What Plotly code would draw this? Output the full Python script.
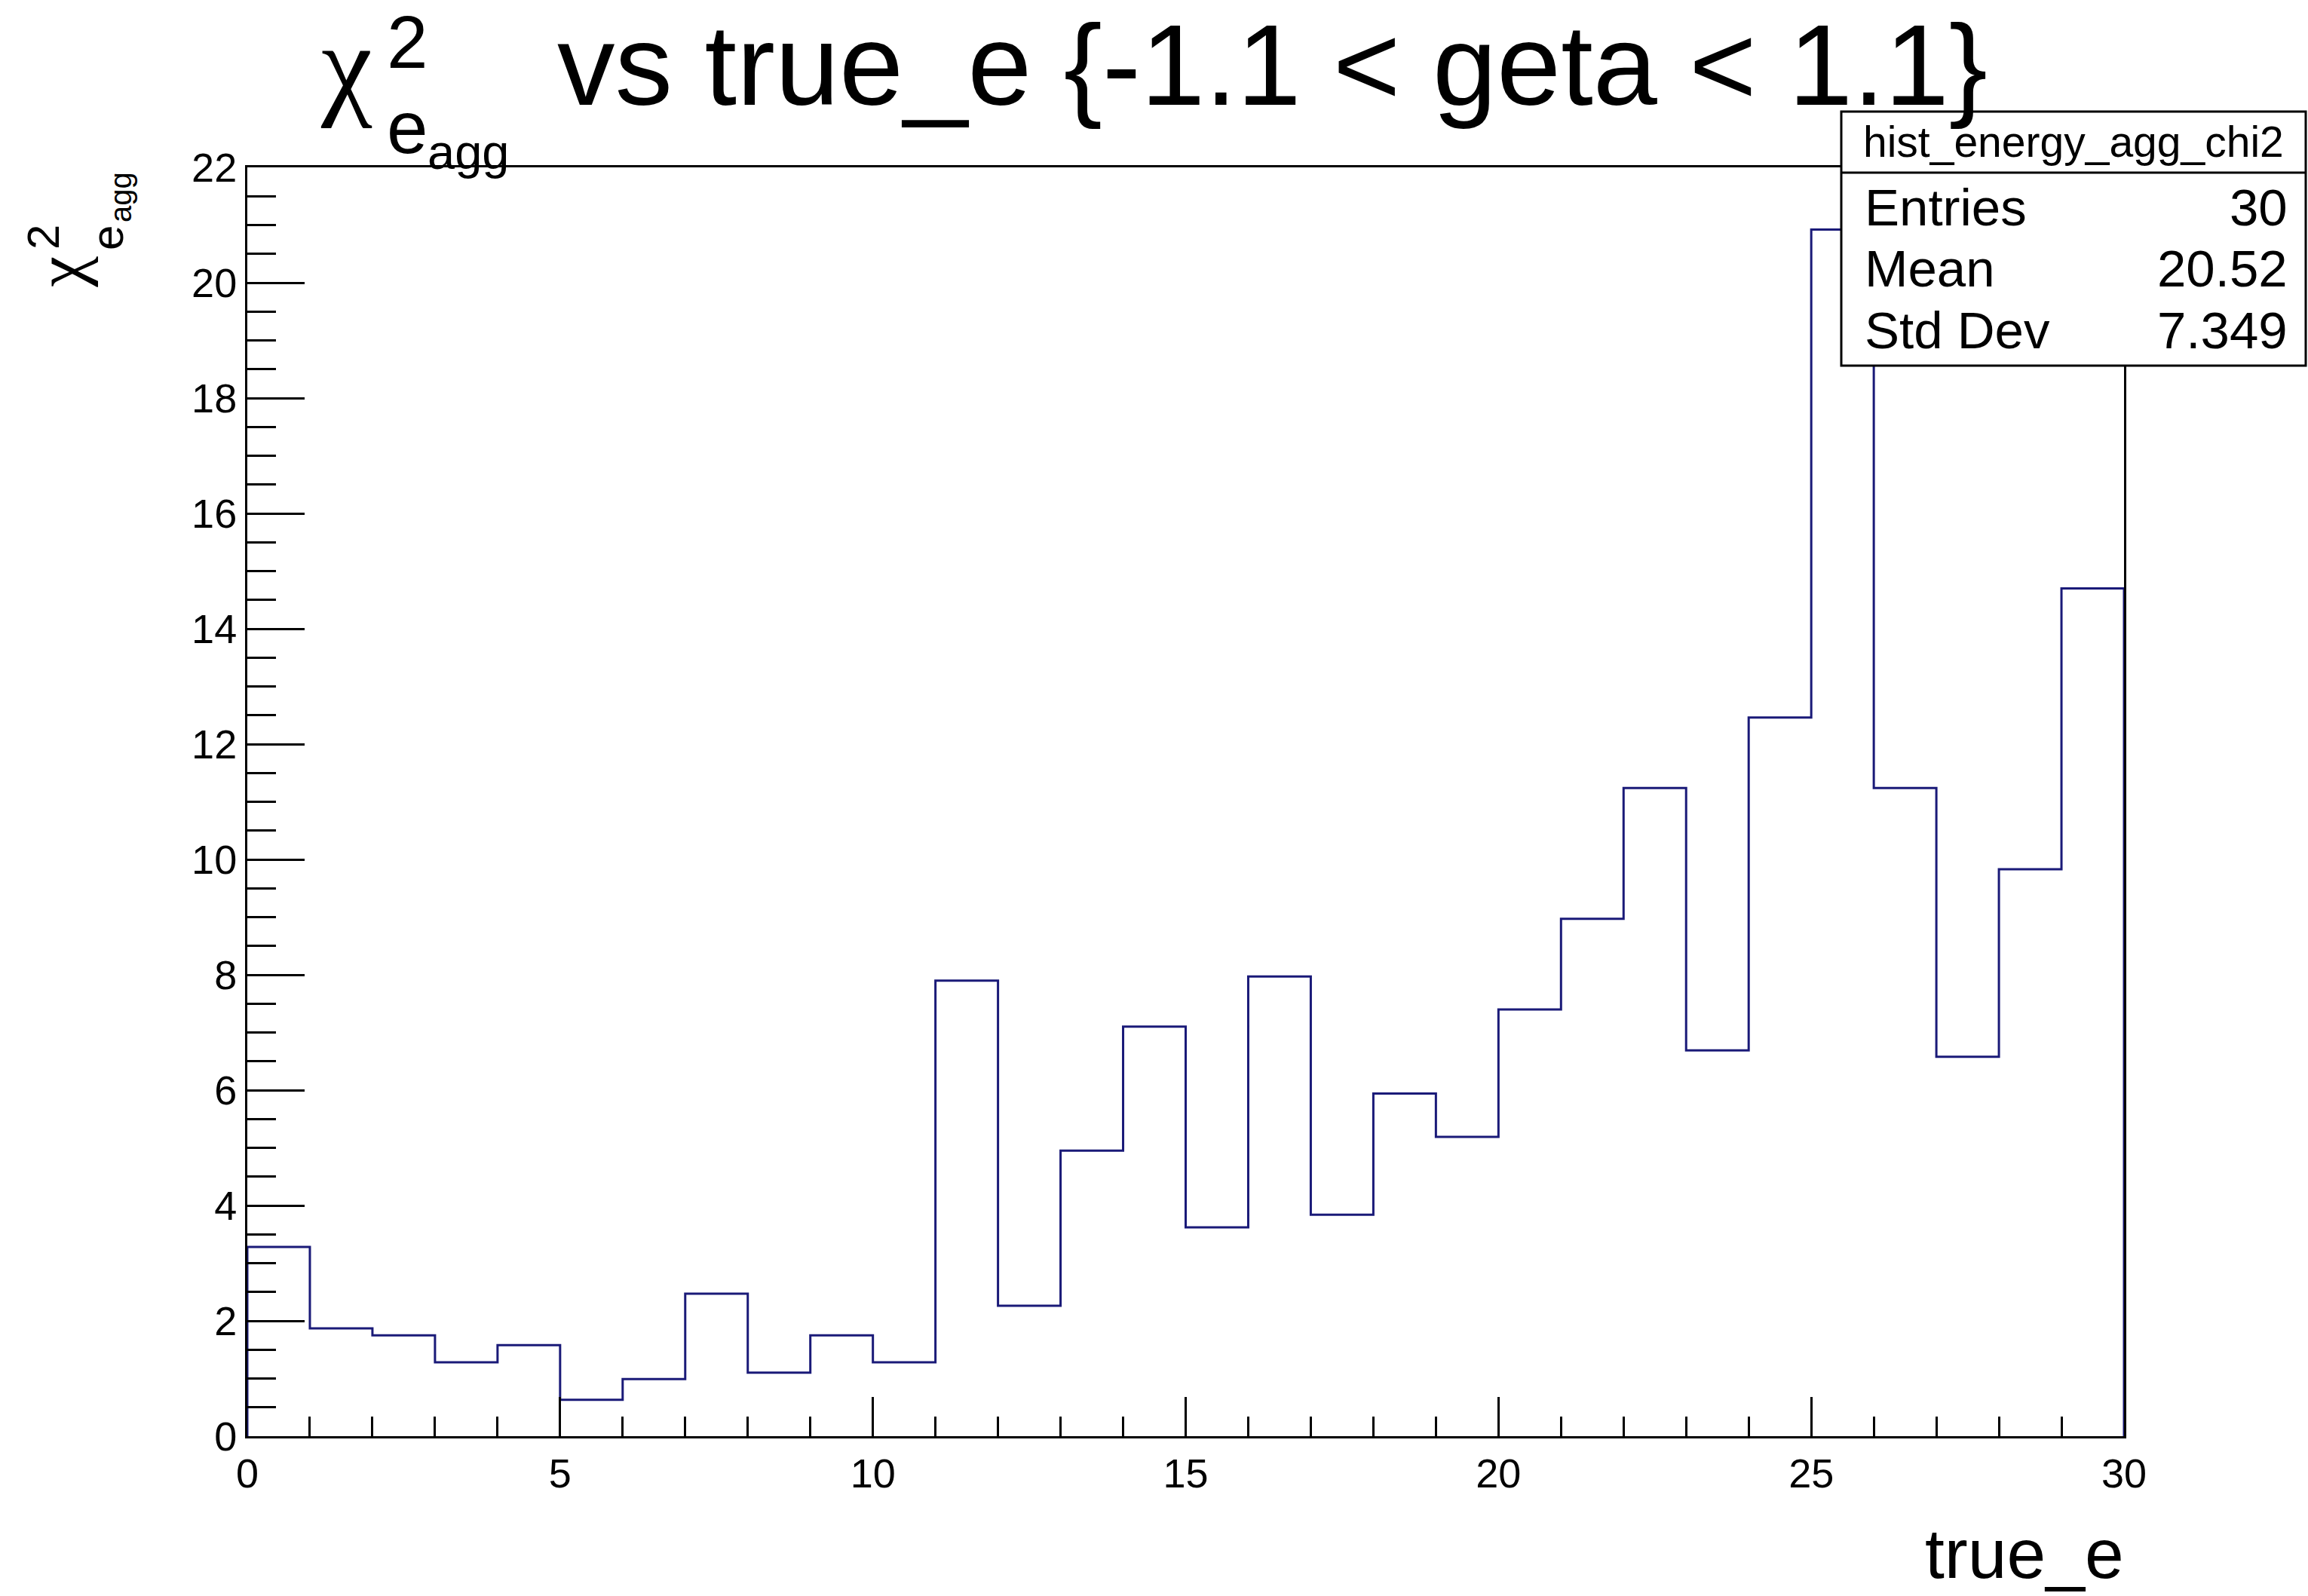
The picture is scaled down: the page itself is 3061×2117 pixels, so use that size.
import plotly.graph_objects as go

# ---- data ----
bin_edges = list(range(0, 31))
chi2_values = [3.28, 1.87, 1.75, 1.28, 1.58, 0.63, 0.99, 2.47, 1.10, 1.75,
               1.28, 7.90, 2.26, 4.95, 7.10, 3.62, 7.97, 3.84, 5.94, 5.19,
               7.40, 8.97, 11.24, 6.69, 12.46, 20.92, 11.24, 6.58, 9.83, 14.70]
stats_labels = ["Entries", "Mean", "Std Dev"]
stats_values = ["30", "20.52", "7.349"]
hist_name = "hist_energy_agg_chi2"
title_main = "vs true_e {-1.1 < geta < 1.1}"
x_title = "true_e"

# ---- geometry ----
W, H = 3061, 2117
L, R, T, B = 328, 2817, 222, 1905
FONT = "Liberation Sans, Arial, Helvetica, sans-serif"
GREEK = "Liberation Serif, Times New Roman, serif"
LINE_COL = "#1a1a78"


def px(x):
    return (x - L) / (R - L)


def py(y):
    return (B - y) / (B - T)


# step outline of the histogram
xs = [bin_edges[0]] + bin_edges + [bin_edges[-1]]
ys = [0] + chi2_values + [chi2_values[-1], 0]

fig = go.Figure()
fig.add_trace(go.Scatter(
    x=xs, y=ys, mode="lines", line=dict(color=LINE_COL, width=3, shape="hv"),
    showlegend=False, hoverinfo="skip", cliponaxis=False,
))

annotations = []


def ann(text, x, y, size, xanchor="center", yanchor="middle", angle=0,
        family=FONT):
    annotations.append(dict(
        text=text, x=px(x), y=py(y), xref="paper", yref="paper",
        xanchor=xanchor, yanchor=yanchor, showarrow=False, textangle=angle,
        font=dict(family=family, size=size, color="black"), borderpad=0,
    ))


# title: chi^2_{e_agg} vs true_e {...}
ann("χ", 424, 139 - 0.35 * 153, 153, xanchor="left", family=GREEK)
ann("2", 512, 90 - 0.35 * 98, 98, xanchor="left")
ann("e", 512, 203 - 0.35 * 98, 98, xanchor="left")
ann("agg", 566, 224 - 0.35 * 65, 65, xanchor="left")
ann(title_main, 738, 139 - 0.35 * 153, 153, xanchor="left")

# y-axis title (rotated)
ann("χ", 112 - 0.35 * 92, 361, 92, angle=-90, family=GREEK)
ann("2", 78 - 0.35 * 60, 315, 60, angle=-90)
ann("e", 163 - 0.35 * 60, 316, 60, angle=-90)
ann("agg", 174 - 0.35 * 40, 262, 40, angle=-90)

# x-axis title
ann(x_title, 2818, 2094 - 0.35 * 93, 93, xanchor="right")

# stats box
BX0, BX1, BY0, BY1, BDIV = 2442, 3058, 148, 485, 229
shapes = [
    dict(type="rect", xref="paper", yref="paper", x0=px(BX0), x1=px(BX1),
         y0=py(BY1), y1=py(BY0), line=dict(color="black", width=3),
         fillcolor="white", layer="above"),
    dict(type="line", xref="paper", yref="paper", x0=px(BX0), x1=px(BX1),
         y0=py(BDIV), y1=py(BDIV), line=dict(color="black", width=3),
         layer="above"),
]
ann(hist_name, (BX0 + BX1) / 2, 208 - 0.35 * 57, 57)
baselines = [300, 381, 463]
for lab, val, bl in zip(stats_labels, stats_values, baselines):
    ann(lab, 2472, bl - 0.35 * 69, 69, xanchor="left")
    ann(val, 3035, bl - 0.35 * 69, 69, xanchor="right")

fig.update_layout(
    width=W, height=H,
    margin=dict(l=L, r=W - R, t=T, b=H - B, autoexpand=False),
    paper_bgcolor="white", plot_bgcolor="white",
    showlegend=False,
    annotations=annotations,
    shapes=shapes,
    font=dict(family=FONT, color="black"),
    xaxis=dict(
        range=[0, 30], dtick=5, tick0=0, ticks="inside", ticklen=52,
        tickwidth=3, tickcolor="black", showgrid=False, zeroline=False,
        showline=True, linecolor="black", linewidth=3, mirror=True,
        tickfont=dict(family=FONT, size=54, color="black"),
        minor=dict(ticks="inside", ticklen=26, tickwidth=3, dtick=1,
                   tickcolor="black", showgrid=False),
    ),
    yaxis=dict(
        range=[0, 22], dtick=2, tick0=0, ticks="inside", ticklen=76,
        tickwidth=3, tickcolor="black", showgrid=False, zeroline=False,
        showline=True, linecolor="black", linewidth=3, mirror=True,
        tickfont=dict(family=FONT, size=54, color="black"),
        minor=dict(ticks="inside", ticklen=38, tickwidth=3, dtick=0.5,
                   tickcolor="black", showgrid=False),
    ),
)

fig.write_html("out.html")
